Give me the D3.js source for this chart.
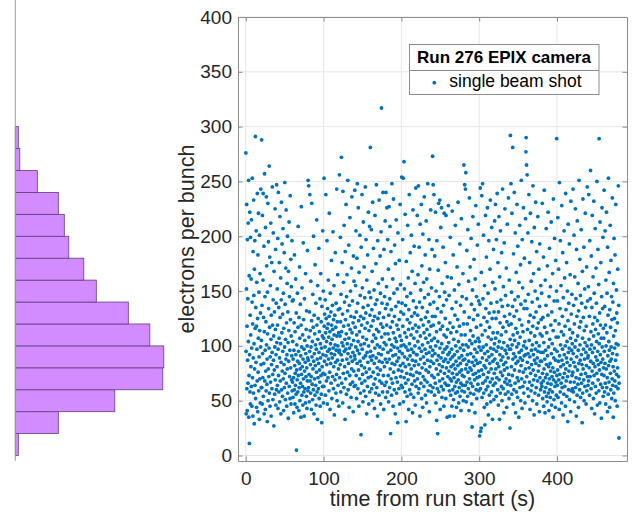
<!DOCTYPE html>
<html lang="en">
  <head>
    <meta charset="UTF-8" />
    <title>Run 276 EPIX camera</title>
    <script src="https://d3js.org/d3.v7.min.js"></script>
    <style>
      body { margin: 0; background: #fff; }
      svg { display: block; font-family: 'Liberation Sans', Arial, Helvetica, sans-serif; }
    </style>
  </head>
  <body>
    <svg width="635" height="516"></svg>
    <script>
      // electrons per bunch, one list per 20 s window of the run (shots in time order)
      const windowSec = 20
      const electronsByWindow = [
        [276,95,38,152,229,61,118,41,197,87,143,66,212,104,251,35,73,164,11,92,222,58,128,47,199,110,81,161,63,215,98,45,140,253,71,120,36,186,89,57,233,146,102,29,170,79,196,64,116,291,52,135,85,205,118,44,158,97,68,239,125,40,183,76,107,221,59,149,90,33,201,114,70,166,48,130,99,243,83,62],
        [105,288,62,137,47,219,93,71,160,239,54,126,84,191,38,113,257,68,145,96,42,208,77,122,59,236,101,173,65,88,31,149,111,230,50,79,195,134,72,98,264,57,117,181,45,90,155,67,212,106,36,128,83,176,61,94,245,119,74,51,142,203,87,109,27,168,78,131,56,99,225,69,115,188,46,92,139,60,247,103],
        [81,152,64,119,198,43,97,240,73,135,58,107,176,89,49,218,126,68,102,162,38,85,142,231,60,112,193,77,54,129,95,207,70,148,41,116,83,185,62,99,249,75,138,51,106,171,88,224,66,121,45,92,157,79,200,57,131,103,34,168,86,114,213,63,145,72,96,52,237,124,80,179,47,109,154,69,91,196,59,141],
        [67,104,53,88,142,71,39,96,121,60,183,82,47,113,75,64,161,92,56,130,5,78,101,44,69,148,86,58,117,209,73,95,41,126,62,84,172,107,50,79,138,66,91,35,119,227,74,99,55,153,81,63,110,46,88,194,70,124,58,97,36,143,77,105,61,85,48,166,93,72,115,54,132,80,43,100,68,187,89,59],
        [251,87,62,246,108,74,49,131,95,238,68,114,83,57,159,99,72,42,123,230,90,65,104,51,147,79,117,60,200,86,38,128,93,70,111,55,174,82,101,64,139,46,97,76,215,119,58,88,33,155,106,71,125,61,84,189,94,52,113,78,67,143,45,102,89,166,73,122,56,98,30,136,81,109,63,205,92,75,150,48],
        [107,63,253,118,86,129,74,99,142,55,112,238,91,125,68,104,83,196,116,47,134,95,71,120,160,88,108,59,127,221,97,76,113,42,148,102,84,131,66,93,178,119,52,106,89,137,72,115,204,98,61,124,81,155,110,37,92,128,69,101,185,85,117,57,139,96,74,243,109,50,122,87,165,100,64,133,79,112,45,94],
        [96,256,71,134,109,83,199,122,58,147,92,272,113,66,103,176,87,129,48,241,100,75,158,118,62,210,95,140,81,106,33,186,124,70,97,229,111,56,145,88,165,102,76,132,251,93,60,119,84,192,107,44,137,98,73,217,115,65,150,90,127,53,101,171,79,236,112,86,141,67,94,121,40,182,105,77,159,63,126,91],
        [242,88,117,64,155,99,205,73,131,52,110,180,84,248,96,139,61,104,226,78,123,45,167,93,113,70,201,86,146,57,127,101,19,190,82,119,66,238,97,153,74,108,49,135,213,89,125,59,172,102,80,144,68,116,245,91,54,130,197,76,106,38,160,94,121,63,183,85,137,71,222,100,47,114,149,79,209,58,128,90],
        [281,95,144,72,118,206,87,61,133,168,104,50,231,91,123,76,189,110,65,151,84,43,127,98,219,70,138,57,107,175,89,247,115,62,142,80,101,36,196,125,74,157,93,113,55,233,86,130,68,99,182,78,148,47,120,204,92,317,108,66,139,85,161,58,117,240,97,73,126,42,188,103,81,145,64,111,214,88,134,53],
        [240,101,67,154,119,226,85,138,58,197,94,111,73,170,49,128,227,88,106,62,143,209,79,117,20,96,186,70,133,55,101,248,84,122,66,161,91,45,112,234,76,148,99,60,127,192,83,107,38,175,92,136,71,215,104,57,119,86,152,67,98,30,203,115,78,140,89,61,124,178,95,47,109,229,82,156,72,131,100,64],
        [105,254,77,139,93,62,197,118,84,253,49,129,101,268,71,152,90,112,58,220,81,137,66,99,31,177,108,75,145,54,124,88,210,96,69,162,115,42,133,83,238,102,60,121,91,185,74,148,56,110,79,201,97,127,65,168,87,39,116,224,73,141,94,53,107,191,82,130,68,100,157,46,119,86,244,63,135,92,76,113],
        [92,219,70,128,104,165,57,246,83,117,61,190,98,140,75,36,211,109,88,151,66,124,229,95,52,173,80,135,101,44,202,72,119,90,158,63,112,236,84,144,69,97,183,55,126,107,78,214,93,48,161,115,67,131,87,248,103,59,147,76,122,197,94,40,110,170,81,138,64,99,224,86,118,58,153,105,73,188,91,127],
        [273,96,62,247,119,84,140,238,71,107,55,182,93,127,66,222,100,48,150,79,113,32,196,87,61,134,20,104,74,169,91,230,58,121,83,145,68,233,98,42,115,77,208,89,131,63,226,102,53,157,81,118,70,94,190,60,137,86,45,110,221,75,149,97,66,125,176,88,52,219,108,80,142,64,99,35,163,115,72,92],
        [85,228,64,103,77,146,59,94,36,121,70,199,88,55,112,81,162,68,97,45,134,223,75,90,60,117,183,83,51,106,71,36,151,92,63,128,79,210,57,100,86,140,67,44,113,74,172,95,58,124,82,231,69,104,48,156,89,62,118,76,193,54,98,84,137,66,41,110,216,78,91,59,145,73,101,64,166,87,50,120],
        [96,265,72,131,58,247,88,110,64,243,79,258,101,49,143,83,187,67,120,92,54,206,76,99,61,159,86,41,126,235,70,105,80,172,57,114,93,66,198,78,138,47,102,26,85,151,63,218,109,74,124,90,56,179,82,133,69,97,39,161,104,75,228,87,60,117,145,52,94,71,192,84,128,65,107,211,77,141,59,99],
        [104,72,18,138,85,244,61,22,119,96,25,167,78,237,53,110,89,248,66,143,99,74,201,57,126,82,44,155,93,28,114,68,219,80,134,60,101,181,87,47,122,71,226,95,63,148,108,37,76,196,90,130,55,117,84,170,67,233,98,49,139,79,106,58,208,92,125,70,33,158,86,112,64,188,97,51,131,75,102,214],
        [88,152,66,229,107,79,125,54,197,95,71,140,239,84,112,60,176,99,46,131,81,218,69,104,33,163,92,121,57,205,76,142,87,110,63,185,98,50,136,73,243,90,117,61,154,83,103,39,194,78,127,67,225,96,56,146,85,113,70,171,93,44,122,80,211,65,100,137,58,89,235,74,119,52,160,97,68,129,25,106],
        [292,97,64,248,120,81,149,56,221,101,73,136,281,88,110,47,184,93,60,127,240,78,105,142,66,203,90,39,116,84,167,58,132,99,229,71,112,53,191,86,145,68,102,35,158,94,77,124,210,62,108,89,174,50,138,82,251,96,70,119,43,197,87,153,63,113,76,226,100,57,134,91,180,67,104,48,141,79,216,92],
        [277,290,98,265,72,134,256,85,115,61,203,93,147,54,122,238,80,105,67,176,90,42,128,221,75,112,59,159,96,83,195,64,140,101,50,118,246,78,92,166,69,126,37,208,87,109,57,150,97,73,231,84,131,62,103,186,47,116,89,143,68,218,95,77,121,55,170,82,100,40,136,193,71,111,86,60,155,94,124,66],
        [86,148,63,109,230,75,52,126,94,68,181,45,103,79,242,58,117,88,39,160,71,96,62,137,207,83,54,112,74,49,173,91,66,128,222,57,99,81,41,145,70,189,106,60,84,53,154,77,119,65,213,93,46,131,72,102,58,166,80,35,114,234,69,89,51,141,76,198,97,63,123,44,87,178,67,108,55,150,289,73],
        [95,64,141,78,217,53,108,86,170,69,120,42,249,91,74,134,58,196,101,81,155,66,113,48,228,87,62,127,97,185,71,37,144,83,110,56,205,92,75,162,63,118,100,45,239,79,133,68,89,176,54,104,85,150,72,31,123,211,94,60,139,77,98,193,51,115,82,165,67,107,40,232,88,129,59,96,147,73,102,61],
        [112,76,243,93,58,137,85,201,67,120,49,163,99,81,225,62,105,143,71,36,188,90,127,55,214,78,109,65,157,96,44,132,84,251,70,117,60,179,101,87,146,53,122,74,206,92,66,139,83,30,168,107,57,234,79,126,97,69,190,50,114,88,152,63,103,221,75,135,94,47,118,82,172,59,100,245,72,141,89,64],
        [91,154,68,238,106,80,127,55,196,97,72,143,260,86,113,61,182,101,43,135,77,219,94,66,120,163,84,52,109,232,73,148,98,38,126,81,207,63,115,90,171,57,139,104,75,250,87,46,123,95,188,69,111,83,156,59,289,102,78,130,48,213,92,119,65,176,85,107,34,145,74,226,99,62,134,88,199,54,116,80],
        [107,73,242,95,58,136,84,205,66,119,47,160,100,79,222,62,112,148,71,40,190,91,128,56,253,82,104,67,167,96,44,133,86,210,75,117,60,178,99,88,145,52,124,70,235,93,64,140,81,35,157,109,57,198,77,125,98,68,183,50,114,87,229,63,102,151,74,130,92,45,121,80,170,61,101,246,72,137,16,66]
      ]

      // histogram of the same run (left panel), 20-electron bins
      const binStarts = [0, 20, 40, 60, 80, 100, 120, 140, 160, 180, 200, 220, 240, 260, 280]
      const binCounts = [6, 86, 199, 295, 297, 269, 226, 162, 137, 107, 98, 86, 44, 9, 6]
      const binWidth = 20

      const xTicks = [0, 100, 200, 300, 400]
      const yTicks = [0, 50, 100, 150, 200, 250, 300, 350, 400]
      const legendTitle = 'Run 276 EPIX camera'
      const seriesName = 'single beam shot'

      // flatten windows into shots with their time from run start
      const shots = []
      electronsByWindow.forEach(function (list, w) {
        list.forEach(function (v, j) {
          shots.push({ t: w * windowSec + (j + 0.5) * windowSec / list.length, e: v })
        })
      })

      const svg = d3.select('svg')
      const blue = '#0072BD'
      const axisColor = '#8c8c8c'
      const textColor = '#262626'

      const x = d3.scaleLinear().domain([-10, 490]).range([238, 627])
      const y = d3.scaleLinear().domain([-5, 400]).range([461, 17])

      // ---- histogram panel ----
      const hx = d3.scaleLinear().domain([0, 300]).range([15.3, 165.3])
      const hist = svg.append('g')
      hist.selectAll('rect')
        .data(binStarts)
        .enter()
        .append('rect')
        .attr('x', hx(0))
        .attr('y', function (d) { return y(d + binWidth) })
        .attr('width', function (d, i) { return hx(binCounts[i]) - hx(0) })
        .attr('height', function (d) { return y(d) - y(d + binWidth) })
        .attr('fill', '#d38cff')
        .attr('stroke', '#5f3c7d')
        .attr('stroke-width', 0.8)
      hist.append('line')
        .attr('x1', hx(0)).attr('x2', hx(0))
        .attr('y1', 0).attr('y2', 461)
        .attr('stroke', '#a0a0a0')
        .attr('stroke-width', 1)

      // ---- scatter panel ----
      const grid = svg.append('g')
      grid.selectAll('line.v')
        .data(xTicks)
        .enter()
        .append('line')
        .attr('x1', function (d) { return x(d) }).attr('x2', function (d) { return x(d) })
        .attr('y1', 17).attr('y2', 461)
        .attr('stroke', '#e6e6e6')
      grid.selectAll('line.h')
        .data(yTicks)
        .enter()
        .append('line')
        .attr('x1', 238).attr('x2', 627)
        .attr('y1', function (d) { return y(d) }).attr('y2', function (d) { return y(d) })
        .attr('stroke', '#e6e6e6')

      svg.append('g')
        .selectAll('circle')
        .data(shots)
        .enter()
        .append('circle')
        .attr('cx', function (d) { return x(d.t) })
        .attr('cy', function (d) { return y(d.e) })
        .attr('r', 1.9)
        .attr('fill', blue)

      // axes with inward ticks, MATLAB style box
      const yAxis = svg.append('g')
        .attr('transform', 'translate(238,0)')
        .call(d3.axisLeft(y).tickValues(yTicks).tickSize(-4.5).tickSizeOuter(0).tickPadding(6))
      const xAxis = svg.append('g')
        .attr('transform', 'translate(0,461)')
        .call(d3.axisBottom(x).tickValues(xTicks).tickSize(-4.5).tickSizeOuter(0).tickPadding(10.5))
      svg.append('g')
        .attr('transform', 'translate(627,0)')
        .call(d3.axisRight(y).tickValues(yTicks).tickSize(-4.5).tickSizeOuter(0).tickFormat(''))
      svg.append('g')
        .attr('transform', 'translate(0,17)')
        .call(d3.axisTop(x).tickValues(xTicks).tickSize(-4.5).tickSizeOuter(0).tickFormat(''))

      svg.selectAll('.domain, .tick line').attr('stroke', axisColor)
      svg.selectAll('.tick text')
        .attr('fill', textColor)
        .style('font-size', '19px')

      svg.append('text')
        .attr('x', 432.5)
        .attr('y', 506)
        .attr('text-anchor', 'middle')
        .attr('fill', textColor)
        .style('font-size', '21.5px')
        .text('time from run start (s)')
      svg.append('text')
        .attr('transform', 'translate(193.5,239) rotate(-90)')
        .attr('text-anchor', 'middle')
        .attr('fill', textColor)
        .style('font-size', '21.5px')
        .text('electrons per bunch')

      // ---- legend ----
      const lg = svg.append('g')
      lg.append('rect')
        .attr('x', 409.5).attr('y', 44.5)
        .attr('width', 189.5).attr('height', 50)
        .attr('fill', '#fff')
        .attr('stroke', axisColor)
      lg.append('line')
        .attr('x1', 409.5).attr('x2', 599)
        .attr('y1', 70.5).attr('y2', 70.5)
        .attr('stroke', axisColor)
      lg.append('text')
        .attr('x', 504)
        .attr('y', 63)
        .attr('text-anchor', 'middle')
        .attr('fill', '#000')
        .style('font-size', '17px')
        .style('font-weight', 'bold')
        .text(legendTitle)
      lg.append('circle')
        .attr('cx', 434.3).attr('cy', 82.7)
        .attr('r', 1.9)
        .attr('fill', blue)
      lg.append('text')
        .attr('x', 449.3)
        .attr('y', 87)
        .attr('fill', '#000')
        .style('font-size', '17.5px')
        .text(seriesName)
    </script>
  </body>
</html>
